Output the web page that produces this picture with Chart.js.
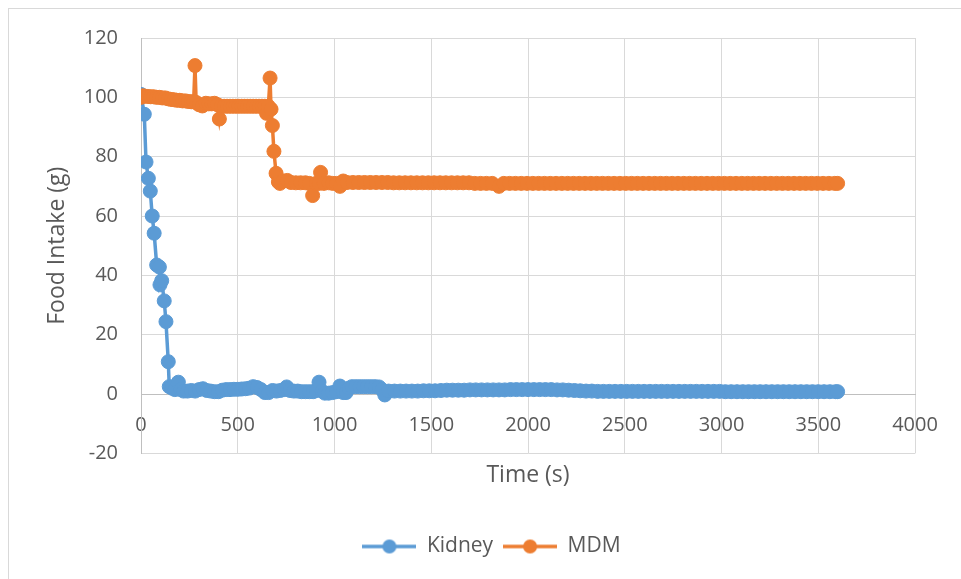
<!DOCTYPE html>
<html>
<head>
<meta charset="utf-8">
<script src="https://cdn.jsdelivr.net/npm/chart.js@4.4.0/dist/chart.umd.min.js"></script>
<style>
  html, body { margin: 0; padding: 0; background: #fff; }
</style>
</head>
<body>
<canvas id="myChart" width="961" height="579"></canvas>
<script>
// Kidney series (time in s, food intake in g)
const kidneyTime = [0, 17, 26, 38, 48, 58, 68, 81, 95, 98, 107, 120, 129, 141, 146, 160, 175, 193, 205, 220,
  240, 260, 280, 300, 320, 340, 360, 380, 400, 420, 440, 460, 480, 500, 520, 540, 560, 580, 600, 620,
  640, 660, 680, 700, 720, 740, 753, 770, 790, 810, 830, 850, 870, 890, 905, 920, 935, 950, 970, 990,
  1010, 1028, 1045, 1060, 1075, 1090, 1110, 1130, 1150, 1170, 1190, 1210, 1230, 1245, 1260, 1280,
  1310, 1340, 1370, 1400, 1430, 1460, 1490, 1520,
  1550, 1580, 1610, 1640, 1670, 1700, 1730, 1760, 1790, 1820, 1850, 1880,
  1910, 1940, 1970, 2000, 2030, 2060, 2090, 2120, 2150,
  2180, 2210, 2240, 2270, 2300,
  2330, 2360, 2390, 2420, 2450, 2480, 2510, 2540, 2570, 2600, 2630, 2660, 2690, 2720, 2750, 2780, 2810,
  2840, 2870, 2900, 2930, 2960, 2990,
  3020, 3050, 3080, 3110, 3140, 3170, 3200, 3230, 3260, 3290, 3320, 3350, 3380, 3410, 3440, 3470, 3500,
  3530, 3560, 3590, 3600]
const kidneyIntake = [101, 94.3, 78.2, 72.7, 68.4, 60, 54.2, 43.5, 42.8, 36.8, 38.2, 31.4, 24.4, 10.9, 2.5, 2.0, 1.5, 4.0, 1.5, 1.0,
  1.0, 1.2, 1.0, 1.5, 1.8, 1.2, 1.0, 0.8, 0.8, 1.3, 1.5, 1.5, 1.6, 1.6, 1.7, 1.8, 2.0, 2.5, 2.2, 1.5,
  0.5, 0.5, 1.2, 1.0, 1.2, 1.5, 2.4, 1.2, 1.0, 1.0, 0.8, 0.8, 0.8, 0.8, 1.2, 4.0, 1.0, 0.3, 0.3, 0.5,
  0.8, 2.7, 0.5, 0.5, 2.0, 2.5, 2.5, 2.5, 2.5, 2.5, 2.5, 2.5, 2.4, 1.5, -0.3, 1.0,
  1.0, 1.0, 1.0, 1.0, 1.0, 1.1, 1.1, 1.1,
  1.2, 1.3, 1.3, 1.3, 1.3, 1.4, 1.4, 1.4, 1.4, 1.4, 1.4, 1.4,
  1.5, 1.5, 1.5, 1.5, 1.5, 1.5, 1.5, 1.5, 1.4,
  1.4, 1.3, 1.2, 1.1, 1.0,
  1.0, 0.9, 0.9, 0.9, 0.9, 0.9, 0.9, 0.9, 0.9, 0.9, 0.9, 0.9, 0.9, 0.9, 0.9, 0.9, 0.9,
  0.9, 0.9, 0.9, 0.9, 0.9, 0.9,
  0.8, 0.8, 0.8, 0.8, 0.8, 0.8, 0.8, 0.8, 0.8, 0.8, 0.8, 0.8, 0.8, 0.8, 0.8, 0.8, 0.8,
  0.8, 0.8, 0.8, 0.8]

// MDM series
const mdmTime = [0, 10, 20, 35, 50, 65, 80, 95, 110, 125, 140, 155, 170, 185, 200, 215, 230, 245, 260, 272,
  279, 285, 300, 317, 335, 350, 365, 380, 395, 405, 415, 430, 445, 460, 475, 490, 505, 520, 535, 550,
  565, 580, 595, 610, 625, 640, 649, 658, 667, 672, 679, 687, 698, 710, 718, 735, 756, 775, 800, 825,
  850, 870, 887, 905, 920, 928, 945, 970, 990, 1010, 1028, 1045, 1065,
  1095, 1125, 1155, 1185, 1215, 1245, 1275,
  1305, 1335, 1365, 1395, 1425, 1455, 1485, 1515, 1545, 1575, 1605, 1635, 1665, 1695,
  1725, 1755, 1785, 1815, 1850,
  1875, 1905, 1935, 1965, 1995, 2025, 2055, 2085, 2115, 2145, 2175, 2205, 2235, 2265, 2295, 2325, 2355,
  2385, 2415, 2445, 2475, 2505, 2535, 2565, 2595, 2625, 2655, 2685, 2715, 2745, 2775, 2805, 2835, 2865,
  2895, 2925, 2955, 2985, 3015, 3045, 3075, 3105, 3135, 3165, 3195, 3225, 3255, 3285, 3315, 3345, 3375,
  3405, 3435, 3465, 3495, 3525, 3555, 3585, 3600]
const mdmIntake = [100, 100.5, 100.4, 100.3, 100.2, 100.2, 100, 100, 99.8, 99.8, 99.5, 99.3, 99.2, 99, 99, 98.8, 98.8, 98.6, 98.5, 98.5,
  110.7, 98.3, 97.5, 97.1, 98, 97.8, 97.8, 98, 97.5, 92.7, 97, 97, 97, 97, 97, 97, 97, 97, 97, 97,
  97, 97, 97, 97, 97, 97, 94.6, 97, 106.5, 96, 90.5, 81.8, 74.4, 71.5, 71, 71.8, 72, 71.3, 71.2, 71.2,
  71.2, 71, 66.9, 71, 71, 74.7, 71, 71.2, 71, 71, 70, 71.8, 71.3,
  71.3, 71.3, 71.3, 71.3, 71.3, 71.3, 71.3,
  71.2, 71.2, 71.2, 71.2, 71.2, 71.2, 71.2, 71.2, 71.2, 71.2, 71.2, 71.2, 71.2, 71.2,
  71, 71, 71, 71, 70,
  71, 71, 71, 71, 71, 71, 71, 71, 71, 71, 71, 71, 71, 71, 71, 71, 71,
  71, 71, 71, 71, 71, 71, 71, 71, 71, 71, 71, 71, 71, 71, 71, 71, 71, 71,
  71, 71, 71, 71, 71, 71, 71, 71, 71, 71, 71, 71, 71, 71, 71, 71, 71,
  71, 71, 71, 71, 71, 71, 71, 71]

const xTicks = [0, 500, 1000, 1500, 2000, 2500, 3000, 3500, 4000]
const yTicks = [-20, 0, 20, 40, 60, 80, 100, 120]

const blue = '#5B9BD5'
const orange = '#ED7D31'
const textColor = '#595959'
const fontFamily = '"Open Sans", "Liberation Sans", sans-serif'

// legend marker: short line with a dot in the middle, like Excel
function legendMark(color) {
  const c = document.createElement('canvas')
  c.width = 54
  c.height = 16
  const g = c.getContext('2d')
  g.strokeStyle = color
  g.lineWidth = 3.5
  g.beginPath()
  g.moveTo(0, 8)
  g.lineTo(54, 8)
  g.stroke()
  g.fillStyle = color
  g.beginPath()
  g.arc(27, 8, 7, 0, Math.PI * 2)
  g.fill()
  return c
}
const marks = [legendMark(blue), legendMark(orange)]

const frame = {
  id: 'frame',
  beforeDraw(chart) {
    const c = chart.ctx
    c.save()
    c.fillStyle = '#fff'
    c.fillRect(0, 0, chart.width, chart.height)
    c.strokeStyle = '#d9d9d9'
    c.lineWidth = 1
    c.strokeRect(8.5, 8.5, 2000, 2000)
    c.restore()
  },
  // the legend sits a little right of the canvas centre
  afterLayout(chart) {
    chart.legend.left += 14
    chart.legend.right += 14
  }
}

const ctx = document.getElementById('myChart')

const myChart = new Chart(ctx, {
  type: 'scatter',
  data: {
    datasets: [{
      label: 'Kidney',
      data: kidneyTime.map((t, i) => ({ x: t, y: kidneyIntake[i] })),
      borderColor: blue,
      backgroundColor: blue,
      borderWidth: 3.5,
      pointRadius: 7,
      pointBorderWidth: 1,
      pointHoverRadius: 7,
      showLine: true,
      order: 1
    }, {
      label: 'MDM',
      data: mdmTime.map((t, i) => ({ x: t, y: mdmIntake[i] })),
      borderColor: orange,
      backgroundColor: orange,
      borderWidth: 3.5,
      pointRadius: 7,
      pointBorderWidth: 1,
      pointHoverRadius: 7,
      showLine: true,
      order: 0
    }]
  },
  options: {
    responsive: false,
    animation: false,
    layout: { padding: { left: 40, right: 46, top: 38, bottom: 12 } },
    scales: {
      x: {
        type: 'linear',
        position: { y: 0 },
        min: xTicks[0],
        max: xTicks[xTicks.length - 1],
        afterBuildTicks: s => { s.ticks = xTicks.map(v => ({ value: v })) },
        ticks: {
          autoSkip: false,
          maxRotation: 0,
          padding: 19,
          color: textColor,
          font: { family: fontFamily, size: 20 },
          callback: v => String(v)
        },
        grid: { color: '#d9d9d9', drawTicks: false },
        border: { color: '#bfbfbf' }
      },
      y: {
        min: yTicks[0],
        max: yTicks[yTicks.length - 1],
        afterBuildTicks: s => { s.ticks = yTicks.map(v => ({ value: v })) },
        afterFit: s => { s.width = 101 },
        ticks: {
          padding: 23,
          color: textColor,
          font: { family: fontFamily, size: 20 },
          callback: v => String(v)
        },
        grid: { color: '#d9d9d9', drawTicks: false },
        border: { color: '#bfbfbf' },
        title: {
          display: true,
          text: 'Food Intake (g)',
          color: textColor,
          font: { family: fontFamily, size: 23 },
          padding: { top: 4, bottom: 4 }
        }
      }
    },
    plugins: {
      tooltip: { enabled: false },
      title: {
        display: true,
        text: 'Time (s)',
        position: 'bottom',
        weight: 500,
        fullSize: false,
        color: textColor,
        font: { family: fontFamily, size: 23, weight: 'normal' },
        padding: { top: 8, bottom: 37 }
      },
      legend: {
        position: 'bottom',
        labels: {
          usePointStyle: true,
          pointStyleWidth: 54,
          color: textColor,
          font: { family: fontFamily, size: 21 },
          padding: 10,
          generateLabels: chart => {
            const items = Chart.defaults.plugins.legend.labels.generateLabels(chart)
            items.forEach(it => { it.pointStyle = marks[it.datasetIndex] })
            return items.sort((a, b) => a.datasetIndex - b.datasetIndex)
          }
        }
      }
    }
  },
  plugins: [frame]
})
</script>
</body>
</html>
